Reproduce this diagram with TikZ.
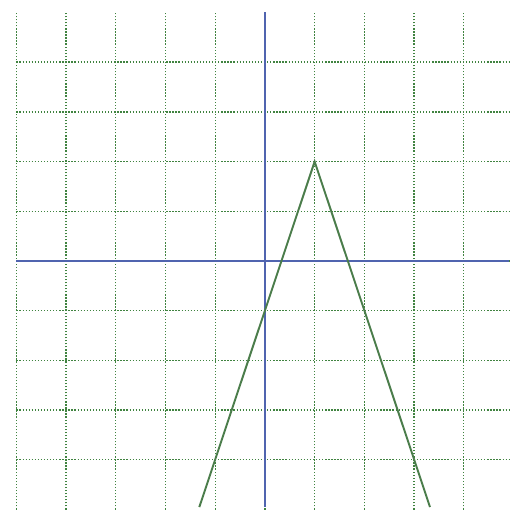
\documentclass[tikz,border=0pt]{standalone}
\definecolor{axisblue}{RGB}{80,100,175}
\definecolor{graphgreen}{RGB}{75,125,75}
\begin{document}
\begin{tikzpicture}[
  gridline/.style={densely dotted,line width=0.75pt,green!35!black!75},
  axis/.style={line width=0.8pt,axisblue},
  graph/.style={line width=1.1pt,graphgreen}]
\useasboundingbox (-5.33,-5.07) rectangle (4.91,5.25);
\fill[white] (-5.33,-5.07) rectangle (4.91,5.25);
% grid
\foreach \x in {-5,...,4}
  \draw[gridline] (\x,-5.0) -- (\x,5.0);
\foreach \y in {-4,...,4}
  \draw[gridline] (-5.0,\y) -- (4.91,\y);
% axes
\draw[axis] (0,-4.95) -- (0,5.0);
\draw[axis] (-5.0,0) -- (4.91,0);
% y = 2 - 3|x-1|
\coordinate (left) at (-1.32,-4.95);
\coordinate (peak) at (1,2);
\coordinate (right) at (3.32,-4.95);
\draw[graph] (left) -- (peak) -- (right);
\end{tikzpicture}
\end{document}
